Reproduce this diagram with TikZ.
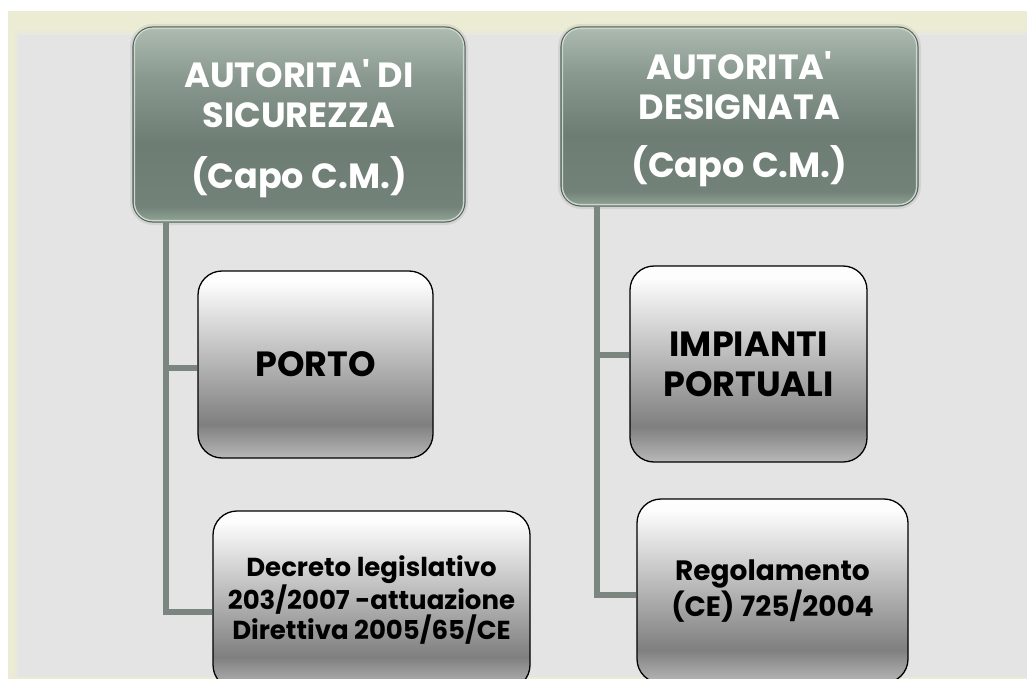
\documentclass[tikz,border=0pt]{standalone}
\usepackage{fontspec}
\setmainfont{Poppins}
\usetikzlibrary{calc}
\definecolor{bgbeige}{HTML}{ECEBD3}
\definecolor{bggray}{HTML}{E4E4E4}
\definecolor{conncol}{HTML}{7A867F}
\definecolor{topedge}{HTML}{56625B}
\definecolor{hilitecol}{HTML}{C8D8CD}
\definecolor{tA}{HTML}{ADBBB1}
\definecolor{tB}{HTML}{8A998F}
\definecolor{tC}{HTML}{6E7D73}
\definecolor{tD}{HTML}{738279}
\definecolor{tE}{HTML}{90A696}
\pgfdeclareverticalshading{topshade}{100bp}{color(0bp)=(tE); color(25bp)=(tE); color(29bp)=(tD); color(45bp)=(tC); color(62bp)=(tB); color(75bp)=(tA); color(100bp)=(tA)}
\definecolor{gW}{HTML}{FDFDFD}
\definecolor{gD}{HTML}{7F7F7F}
\definecolor{gL}{HTML}{B8B8B8}
\pgfdeclareverticalshading{lowshade}{100bp}{color(0bp)=(gL); color(25bp)=(gL); color(34bp)=(gD); color(72bp)=(gW); color(100bp)=(gW)}
\newcommand{\apos}{\textquotesingle}
\begin{document}
\begin{tikzpicture}[x=1pt,y=-1pt,
  topbox/.style={rectangle, rounded corners=20pt, draw=topedge, line width=1.2pt, shading=topshade, text=white, font=\bfseries\fontsize{35}{40}\selectfont, align=center, inner sep=0pt, preaction={draw=black, opacity=0.07, line width=6pt}},
  lowbox/.style={rectangle, rounded corners=24pt, draw=black, line width=1.3pt, shading=lowshade, text=black, align=center, inner sep=0pt},
  conn/.style={draw=conncol, line width=5.5pt},
  hilite/.style={draw=hilitecol, line width=1.3pt, rounded corners=18pt}]
\useasboundingbox (0,0) rectangle (1027,679);
\clip (0,0) rectangle (1027,679);
% background
\fill[white] (0,0) rectangle (1027,679);
\fill[bgbeige] (8,11) rectangle (1027,679);
\fill[bgbeige!50!bggray] (15,31) rectangle (1027,678);
\fill[bggray] (18,35) rectangle (1027,677);
% boxes
\node[topbox, minimum width=332pt, minimum height=195pt] (sic) at (299,124.5) {\rule{0pt}{37pt}AUTORITA\apos{} DI\\SICUREZZA\\[21pt](Capo C.M.)};
\node[topbox, minimum width=357pt, minimum height=179pt] (des) at (739.5,116.5) {\rule{0pt}{34pt}AUTORITA\apos\\DESIGNATA\\[18pt](Capo C.M.)};
\draw[hilite] ($(sic.north west)+(2,2)$) rectangle ($(sic.south east)+(-2,-2)$);
\draw[hilite] ($(des.north west)+(2,2)$) rectangle ($(des.south east)+(-2,-2)$);
\node[lowbox, minimum width=235pt, minimum height=187pt, font=\bfseries\fontsize{35}{40}\selectfont] (porto) at (315.5,364.5) {PORTO};
\node[lowbox, minimum width=237pt, minimum height=196pt, font=\bfseries\fontsize{35}{40}\selectfont] (imp) at (748.5,364) {IMPIANTI\\PORTUALI};
\node[lowbox, minimum width=317pt, minimum height=178pt, font=\bfseries\fontsize{26}{29}\selectfont] (dec) at (371.5,600) {Decreto legislativo\\203/2007 -attuazione\\Direttiva 2005/65/CE};
\node[lowbox, minimum width=271pt, minimum height=184pt, font=\bfseries\fontsize{28}{32}\selectfont] (reg) at (772.5,591) {Regolamento\\(CE) 725/2004};
% connectors
\coordinate (lx) at (166,0);
\coordinate (rx) at (597,0);
\draw[conn] (sic.south -| lx) |- ($(dec.west)+(0,12)$);
\draw[conn] ($(lx |- porto.west)+(0,3.5)$) -- ($(porto.west)+(0,3.5)$);
\draw[conn] (des.south -| rx) |- ($(reg.west)+(0,4)$);
\draw[conn] ($(rx |- imp.west)+(0,-9)$) -- ($(imp.west)+(0,-9)$);
\end{tikzpicture}
\end{document}
